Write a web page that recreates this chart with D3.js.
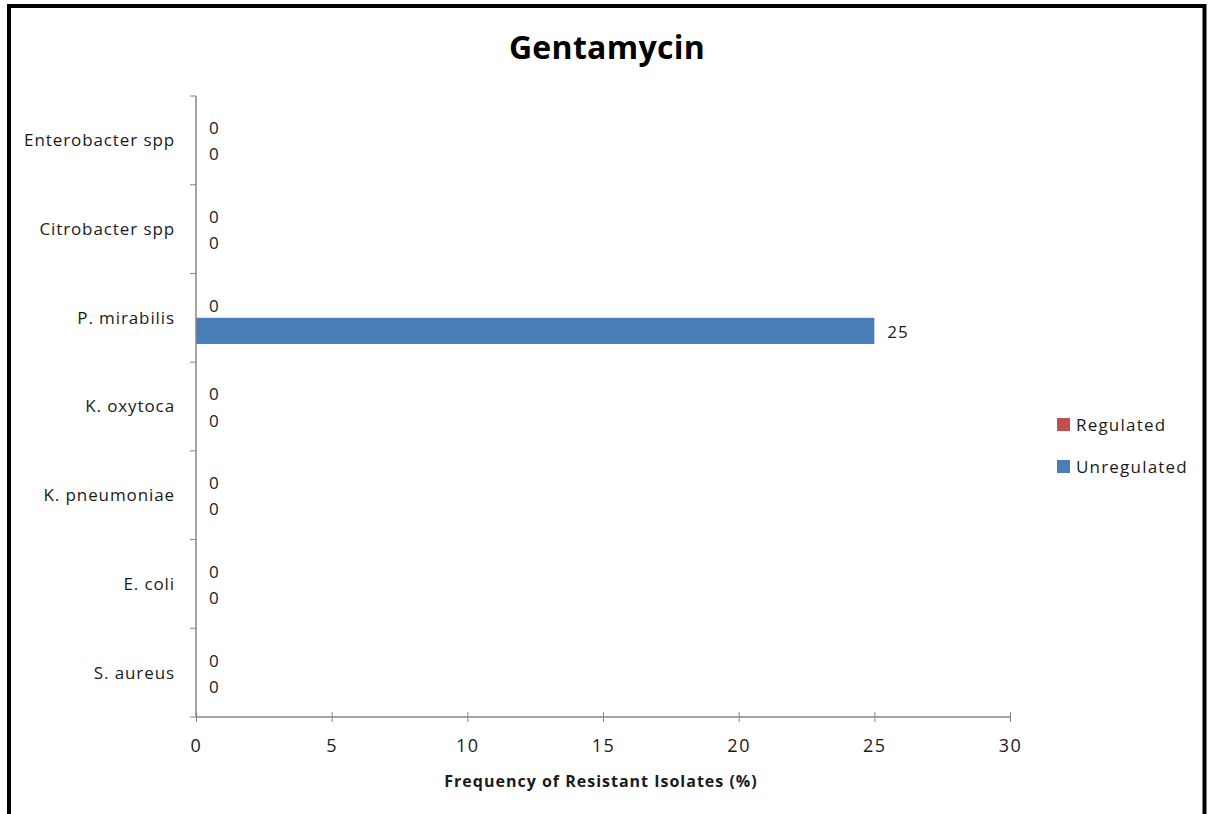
<!DOCTYPE html>
<html>
<head>
<meta charset="utf-8">
<script src="https://cdn.jsdelivr.net/npm/d3@7"></script>
<style>
  html, body { margin: 0; padding: 0; background: #ffffff; }
  svg { display: block; }
  text { font-family: "Open Sans", "Lato", sans-serif; }
</style>
</head>
<body>
<svg id="chart" width="1208" height="814"></svg>
<script>
// Organisms, listed bottom to top as they appear on the axis
const categories = ["S. aureus", "E. coli", "K. pneumoniae", "K. oxytoca", "P. mirabilis", "Citrobacter spp", "Enterobacter spp"];
const seriesNames = ["Regulated", "Unregulated"];
const regulated = [0, 0, 0, 0, 0, 0, 0];
const unregulated = [0, 0, 0, 0, 25, 0, 0];
const xTicks = [0, 5, 10, 15, 20, 25, 30];
const colors = ["#C0504D", "#4A7EBB"];

const svg = d3.select("#chart");
const W = 1208, H = 814;

// Outer frame
svg.append("rect").attr("x", 0).attr("y", 0).attr("width", W).attr("height", H).attr("fill", "#fff");
svg.append("rect").attr("x", 9).attr("y", 6).attr("width", 1195.5).attr("height", 820)
  .attr("fill", "none").attr("stroke", "#000").attr("stroke-width", 4);

const plot = { left: 196, right: 1010, top: 96, bottom: 717 };

const x = d3.scaleLinear().domain([0, 30]).range([plot.left, plot.right]);
const y = d3.scaleBand().domain(categories.slice().reverse()).range([plot.top, plot.bottom])
  .paddingInner(0.41).paddingOuter(0.205);
const ySub = d3.scaleBand().domain(seriesNames).range([0, y.bandwidth()]);
const yTick = d3.scaleBand().domain(categories.slice().reverse()).range([plot.top, plot.bottom]);

const axisColor = "#868686";
const textColor = "#1a1a1a";
const fs = 17;

// Title
svg.append("text").attr("x", 607).attr("y", 59).attr("text-anchor", "middle")
  .attr("font-size", 32).attr("font-weight", "bold").attr("fill", "#000")
  .attr("letter-spacing", 0.3).text("Gentamycin");

// Bars
const data = categories.map((c, i) => ({ cat: c, values: [regulated[i], unregulated[i]] }));
const groups = svg.append("g").selectAll("g").data(data).join("g")
  .attr("transform", d => `translate(0,${y(d.cat)})`);

groups.selectAll("rect").data(d => d.values.map((v, j) => ({ v, s: seriesNames[j], j })))
  .join("rect")
  .attr("x", x(0))
  .attr("y", d => ySub(d.s))
  .attr("width", d => x(d.v) - x(0))
  .attr("height", ySub.bandwidth())
  .attr("fill", d => colors[d.j]);

// Value labels
groups.selectAll("text").data(d => d.values.map((v, j) => ({ v, s: seriesNames[j], j })))
  .join("text")
  .attr("x", d => x(d.v) + 13)
  .attr("y", d => ySub(d.s) + ySub.bandwidth() / 2 + 1)
  .attr("dy", "0.35em")
  .attr("font-size", fs).attr("fill", textColor).attr("letter-spacing", 1)
  .text(d => d.v);

// X axis
const xAxis = d3.axisBottom(x).tickValues(xTicks).tickSize(6).tickPadding(16);
const gx = svg.append("g").attr("transform", `translate(0,${plot.bottom})`).call(xAxis);
gx.select(".domain").attr("stroke", axisColor).attr("stroke-width", 1.5).attr("d", `M${plot.left},0H${plot.right}`);
gx.selectAll(".tick line").attr("stroke", axisColor).attr("y1", -5).attr("y2", 5);
gx.selectAll(".tick text").attr("font-size", 18).attr("fill", textColor)
  .attr("letter-spacing", 1.5)
  .attr("font-family", "'Open Sans', sans-serif");

// Y axis: ticks sit on category boundaries
svg.append("line").attr("x1", plot.left).attr("x2", plot.left).attr("y1", plot.top).attr("y2", plot.bottom)
  .attr("stroke", axisColor).attr("stroke-width", 1.5);
const boundaries = categories.slice().reverse().map(c => yTick(c)).concat([plot.bottom]);
svg.append("g").selectAll("line").data(boundaries).join("line")
  .attr("x1", plot.left - 6).attr("x2", plot.left).attr("y1", d => d).attr("y2", d => d)
  .attr("stroke", axisColor).attr("stroke-width", 1);
svg.append("g").selectAll("text").data(categories).join("text")
  .attr("x", 175).attr("y", d => yTick(d) + yTick.bandwidth() / 2).attr("dy", "0.35em")
  .attr("text-anchor", "end").attr("font-size", fs).attr("fill", textColor)
  .attr("letter-spacing", 0.9).text(d => d);

// Axis title
svg.append("text").attr("x", 601).attr("y", 787).attr("text-anchor", "middle")
  .attr("font-size", 16).attr("font-weight", "bold").attr("fill", textColor)
  .attr("letter-spacing", 1).text("Frequency of Resistant Isolates (%)");

// Legend
const legend = svg.append("g").selectAll("g").data(seriesNames).join("g")
  .attr("transform", (d, i) => `translate(1057,${418 + i * 42})`);
legend.append("rect").attr("width", 13).attr("height", 13).attr("fill", (d, i) => colors[i]);
legend.append("text").attr("x", 19).attr("y", 7).attr("dy", "0.35em")
  .attr("font-size", fs).attr("fill", textColor).attr("letter-spacing", 1.2).text(d => d);
</script>
</body>
</html>
